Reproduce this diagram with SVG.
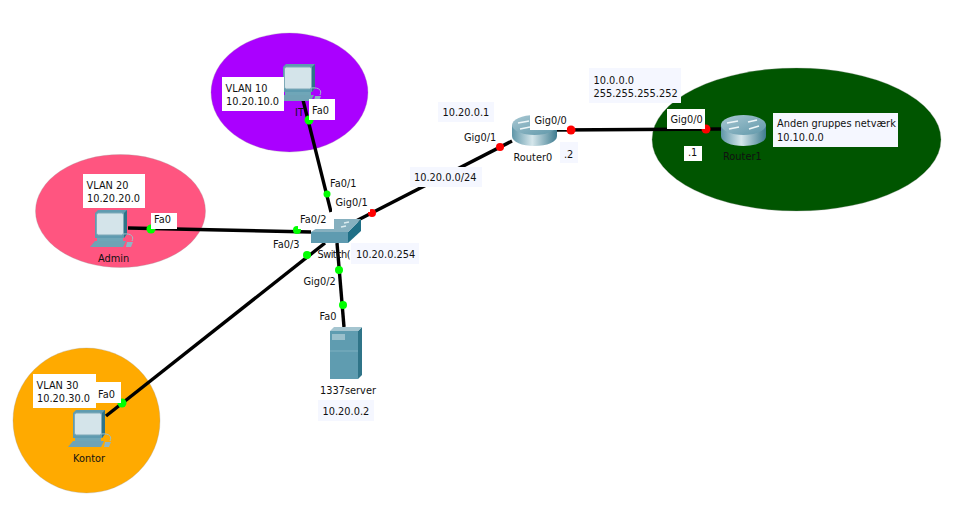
<svg xmlns="http://www.w3.org/2000/svg" width="968" height="519" viewBox="0 0 968 519">
<style>
text{font-family:"DejaVu Sans","Liberation Sans",sans-serif;font-size:9.8px;fill:#111}
.link{stroke:#000;stroke-width:3.4;fill:none}
.g{fill:#00ff00}.r{fill:#ff0000}
.w{fill:#fff}.b{fill:#f5f7ff}
.area{stroke:#999;stroke-width:.5;stroke-opacity:.6}
</style>
<defs>
<linearGradient id="rg" x1="0" x2="1" y1="0" y2="0"><stop offset="0" stop-color="#5f96a8"/><stop offset=".45" stop-color="#d5e6eb"/><stop offset="1" stop-color="#3f7c90"/></linearGradient>
<linearGradient id="rt" x1="0" x2="1" y1="0" y2="1"><stop offset="0" stop-color="#a9c8d3"/><stop offset="1" stop-color="#5f97a9"/></linearGradient>
<symbol id="pc" width="46" height="38" viewBox="0 0 46 38" overflow="visible">
<path d="M8 0H37V24L34 28H5V3Z" fill="#5f9bb0"/>
<path d="M34 3L37 0V24L34 28Z" fill="#2f7488"/>
<rect x="6.500" y="3" width="27" height="22" rx="2" fill="#d4e4ea" stroke="#7fa9b8"/>
<path d="M7 28H33V31H7Z" fill="#6fa6b8"/>
<path d="M5 31H36L33 37H0Z" fill="#6fa3b5"/>
<path d="M33 24C42 23 44 27 42 31" fill="none" stroke="#9cc0cc" stroke-width="1"/>
<path d="M37 32H43L41 37H36Z" fill="#8fb6c4"/>
</symbol>
<symbol id="router" width="45" height="31" viewBox="0 0 45 31" overflow="visible">
<path d="M0 10V21C0 27 10 31 22.500 31S45 27 45 21V10Z" fill="url(#rg)"/>
<ellipse cx="22.500" cy="10" rx="22.500" ry="10" fill="url(#rt)"/>
<path d="M6 8L17 6M28 14L38 11M27 7L36 5M8 14L18 12" stroke="#eef6f8" stroke-width="1.600" fill="none"/>
</symbol>
<symbol id="server" width="32" height="52" viewBox="0 0 32 52" overflow="visible">
<path d="M0 4H28V52H0Z" fill="#5f9cb0"/>
<path d="M28 4L32 0V48L28 52Z" fill="#2f7488"/>
<path d="M4 0H32L28 4H0Z" fill="#a5c5d0"/>
<rect x="2" y="7" width="13" height="6" fill="#9ac0cc"/>
<path d="M0 24H28" stroke="#7fb0c0" stroke-width="1"/>
</symbol>
<symbol id="switch" width="50" height="25" viewBox="0 0 50 25" overflow="visible">
<path d="M0 14H37V25H0Z" fill="#5f9bb0"/>
<path d="M37 14L50 1V13L37 25Z" fill="#1f6f86"/>
<path d="M20 1H50L37 14H0Z" fill="#86b0bf"/>
<path d="M33 5L38 4M30 9L35 8" stroke="#dcecf0" stroke-width="1.500"/>
</symbol>
</defs>

<g id="areas">
<ellipse class="area" cx="289.500" cy="92.500" rx="78.500" ry="59.500" fill="#aa00ff"/>
<ellipse class="area" cx="120.500" cy="211" rx="85" ry="56.500" fill="#ff5580"/>
<ellipse class="area" cx="86.500" cy="420.500" rx="73.500" ry="72.500" fill="#ffaa00"/>
<ellipse class="area" cx="796.500" cy="139.500" rx="144.500" ry="71.500" fill="#005500"/>
</g>

<g id="connectors">
<path class="link" d="M303 100L331 212"/>
<path class="link" d="M128 228L311 232"/>
<path class="link" d="M106 416L325 243"/>
<path class="link" d="M337 243L344 327"/>
<path class="link" d="M356 221L512 141"/>
<path class="link" d="M556 130L721 129"/>
</g>

<g id="it"><use href="#pc" x="278" y="64"/><text x="295" y="116">IT</text>
<rect class="w" x="222" y="77" width="62" height="34"/><text x="225.500" y="92">VLAN 10</text><text x="226" y="105">10.20.10.0</text>
<circle class="g" cx="309" cy="120" r="4.500"/>
<rect class="w" x="309" y="99" width="26" height="21"/><text x="312" y="114">Fa0</text></g>

<g id="admin"><use href="#pc" x="90" y="210"/><text x="98" y="262">Admin</text>
<rect class="w" x="83" y="174" width="62" height="34"/><text x="86.500" y="189">VLAN 20</text><text x="87" y="202">10.20.20.0</text>
<circle class="g" cx="151" cy="229" r="4.500"/>
<rect class="w" x="151" y="213" width="26" height="16"/><text x="154" y="223">Fa0</text></g>

<g id="kontor"><use href="#pc" x="68" y="410"/><text x="73" y="462">Kontor</text>
<circle class="g" cx="122" cy="403" r="4.500"/>
<rect class="w" x="33" y="374" width="63" height="34"/><text x="36.500" y="389">VLAN 30</text><text x="37" y="402">10.20.30.0</text>
<rect class="w" x="96" y="382" width="25" height="21"/><text x="98" y="398">Fa0</text></g>

<g id="switch0"><use href="#switch" x="311" y="218"/>
<circle class="g" cx="327" cy="194" r="3.500"/><circle class="r" cx="372" cy="213" r="4"/><circle class="g" cx="297" cy="230" r="4"/><circle class="g" cx="307" cy="255" r="4"/><circle class="g" cx="339" cy="270" r="4"/><circle class="g" cx="343" cy="305" r="4"/>
<rect class="w" x="329" y="177" width="34" height="14"/><text x="330" y="187">Fa0/1</text>
<rect class="w" x="332" y="194" width="38" height="18"/><text x="335.500" y="206">Gig0/1</text>
<rect class="w" x="298" y="213" width="36" height="16"/><text x="300" y="223">Fa0/2</text>
<text x="273" y="248">Fa0/3</text>
<text x="317.500" y="258" textLength="33">Switch(</text>
<rect class="b" x="351" y="243" width="68" height="21"/><text x="356" y="258">10.20.0.254</text>
<text x="303.500" y="285">Gig0/2</text></g>

<g id="server1337"><use href="#server" x="330" y="327"/>
<text x="319.500" y="320">Fa0</text><text x="320" y="394">1337server</text>
<rect class="b" x="318" y="400" width="56" height="21"/><text x="322.500" y="415">10.20.0.2</text></g>

<g id="net"><rect class="b" x="410" y="167" width="72" height="20"/><text x="414" y="181">10.20.0.0/24</text></g>

<g id="router0"><use href="#router" x="512" y="115"/>
<circle class="r" cx="500" cy="147" r="4"/><circle class="r" cx="571" cy="130" r="4.500"/>
<rect class="b" x="438" y="102" width="56" height="20"/><text x="442.500" y="116">10.20.0.1</text>
<text x="464" y="141">Gig0/1</text>
<rect class="w" x="530" y="113" width="37" height="17"/><text x="534.500" y="124">Gig0/0</text>
<text x="513.500" y="161">Router0</text>
<rect class="b" x="560" y="142" width="18" height="21"/><text x="564" y="158">.2</text></g>

<g id="wan"><rect class="b" x="589" y="68" width="92" height="35"/><text x="593.500" y="84">10.0.0.0</text><text x="593.500" y="97">255.255.255.252</text></g>

<g id="router1"><use href="#router" x="721" y="115"/>
<circle class="r" cx="706" cy="129" r="4.500"/>
<rect class="w" x="667" y="109" width="38" height="20"/><text x="670.500" y="123">Gig0/0</text>
<rect class="w" x="684" y="146" width="18" height="15"/><text x="688" y="156">.1</text>
<text x="723" y="160">Router1</text>
<rect class="b" x="773" y="113" width="125" height="34"/><text x="777" y="127">Anden gruppes netværk</text><text x="777" y="141">10.10.0.0</text></g>
</svg>
